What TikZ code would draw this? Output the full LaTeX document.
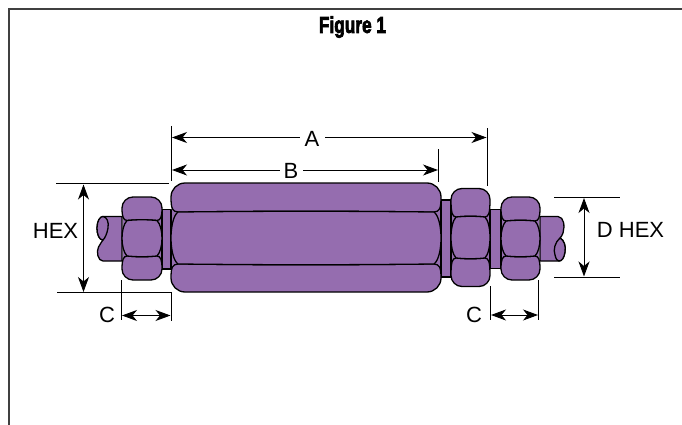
\documentclass[tikz,border=0pt]{standalone}
\usepackage{fontspec}
\setmainfont{Liberation Sans}
\newfontfamily\titlefont[FakeBold=3.5]{Liberation Sans Bold}
\usetikzlibrary{arrows.meta}
\definecolor{nutpurple}{HTML}{956DAF}
\definecolor{framegray}{HTML}{404040}
\tikzset{
  part/.style={draw=black,line width=1.3pt,fill=nutpurple,line join=round},
  dimline/.style={draw=black,line width=0.9pt},
  dimarrow/.style={draw=black,line width=0.9pt,{Stealth[length=15pt,width=11pt,inset=4.5pt]}-{Stealth[length=15pt,width=11pt,inset=4.5pt]}},
  rightarrow/.style={draw=black,line width=0.9pt,-{Stealth[length=15pt,width=11pt,inset=4.5pt]}},
  leftarrow/.style={draw=black,line width=0.9pt,{Stealth[length=15pt,width=11pt,inset=4.5pt]}-},
  lbl/.style={font=\fontsize{22}{24}\selectfont,inner sep=0pt,text=black},
  titlelbl/.style={font=\fontsize{23}{24}\selectfont\titlefont,inner sep=0pt,text=black,xscale=0.75}
}
% #1 x0, #2 x1, #3 top, #4 line1, #5 line2, #6 bottom, #7 corner radius, #8 junction inset
\newcommand{\nutbody}[8]{%
  \path[fill=nutpurple] ({#1+1},{#4-4}) rectangle ({#2-1},{#5+4});
  \path[part] ({#1+#8},{#4}) .. controls ({#1+1.5},{#4-0.5}) and ({#1},{#4-3}) .. ({#1},{#3+#7})
     .. controls ({#1},{#3+#7*0.45}) and ({#1+#7*0.45},{#3}) .. ({#1+#7},{#3})
     -- ({#2-#7},{#3})
     .. controls ({#2-#7*0.45},{#3}) and ({#2},{#3+#7*0.45}) .. ({#2},{#3+#7})
     .. controls ({#2},{#4-3}) and ({#2-1.5},{#4-0.5}) .. ({#2-#8},{#4})
     .. controls ({#2*0.6+#1*0.4},{#4-1}) and ({#1*0.6+#2*0.4},{#4-1}) .. cycle;
  \path[part] ({#1+#8},{#5}) .. controls ({#1+1.5},{#5+0.5}) and ({#1},{#5+3}) .. ({#1},{#6-#7})
     .. controls ({#1},{#6-#7*0.45}) and ({#1+#7*0.45},{#6}) .. ({#1+#7},{#6})
     -- ({#2-#7},{#6})
     .. controls ({#2-#7*0.45},{#6}) and ({#2},{#6-#7*0.45}) .. ({#2},{#6-#7})
     .. controls ({#2},{#5+3}) and ({#2-1.5},{#5+0.5}) .. ({#2-#8},{#5})
     .. controls ({#2*0.6+#1*0.4},{#5+1}) and ({#1*0.6+#2*0.4},{#5+1}) .. cycle;
  \path[part] ({#1+#8},{#4}) .. controls ({#1-#8/3},{#4+7}) and ({#1-#8/3},{#5-7}) .. ({#1+#8},{#5})
     .. controls ({#1*0.6+#2*0.4},{#5+1}) and ({#2*0.6+#1*0.4},{#5+1}) .. ({#2-#8},{#5})
     .. controls ({#2+#8/3},{#5-7}) and ({#2+#8/3},{#4+7}) .. ({#2-#8},{#4})
     .. controls ({#2*0.6+#1*0.4},{#4-1}) and ({#1*0.6+#2*0.4},{#4-1}) .. cycle;
}
\begin{document}
\begin{tikzpicture}[x=1pt,y=-1pt]
\useasboundingbox (0,0) rectangle (682,425);
% frame
\draw[framegray,line width=1.2pt] (9,425) -- (9,9) -- (682,9);
\node[titlelbl] (title) at (352.5,27) {Figure 1};

% left shaft
\path[part] (103,216.5) -- (122,216.5) -- (122,261) -- (103,261)
  .. controls (98,261) and (96,252) .. (98.5,247)
  .. controls (101,243) and (102,241) .. (103,240)
  .. controls (99,240) and (97,234) .. (97,228)
  .. controls (97,221) and (100,216.5) .. (103,216.5) -- cycle;
\path[part] (103,216.5) .. controls (107,217) and (109,222) .. (108,228)
  .. controls (107,234) and (105,238) .. (103,240)
  .. controls (99,240) and (97,234) .. (97,228)
  .. controls (97,221) and (100,216.5) .. (103,216.5) -- cycle;
% right shaft
\path[part] (540,216.5) -- (558,216.5)
  .. controls (564,217) and (565,226) .. (563,233)
  .. controls (562,236) and (561,237) .. (560,238)
  .. controls (564,240) and (566,246) .. (565,252)
  .. controls (564,258) and (562,261) .. (559,261) -- (540,261) -- cycle;
\path[part] (560,238) .. controls (555,242) and (553,250) .. (555,255)
  .. controls (556,259) and (557,261) .. (559,261)
  .. controls (562,261) and (564,258) .. (565,252)
  .. controls (566,246) and (564,240) .. (560,238) -- cycle;

% collars
\path[part] (162,209.5) rectangle (171,269);
\path[part] (441,200) rectangle (451,277);
\path[part] (490,209.5) rectangle (501,268.5);

% nuts and body
\nutbody{122}{162}{197}{220.5}{256}{280}{11}{5}
\nutbody{171}{441}{183}{212}{264}{292}{14}{7}
\nutbody{451}{490}{188.5}{217}{258}{286.5}{11}{5}
\nutbody{501}{540}{197}{221}{256}{280}{11}{5}

% extension lines
\draw[dimline] (171,126) -- (171,181);
\draw[dimline] (487,128) -- (487,186);
\draw[dimline] (438.5,149) -- (438.5,182);
\draw[dimline] (56,183.5) -- (169,183.5);
\draw[dimline] (57,292.5) -- (171,292.5);
\draw[dimline] (121.5,280) -- (121.5,320);
\draw[dimline] (171,292) -- (171,321);
\draw[dimline] (490,286) -- (490,320);
\draw[dimline] (538.5,280) -- (538.5,320);
\draw[dimline] (554,197.5) -- (620,197.5);
\draw[dimline] (554,277) -- (620,277);

% labels
\node[lbl] (labelA) at (312,139) {A};
\node[lbl] (labelB) at (291,171) {B};
\node[lbl] (labelHEX) at (55.5,230.5) {HEX};
\node[lbl] (labelCl) at (107,314.5) {C};
\node[lbl] (labelCr) at (474,314.5) {C};
\node[lbl] (labelDHEX) at (630.5,229.5) {D HEX};

% dimension coordinates
\coordinate (Al) at (172,137.5);
\coordinate (Ala) at (300,137.5);
\coordinate (Ara) at (325,137.5);
\coordinate (Ar) at (486.5,137.5);
\coordinate (Bl) at (172,170);
\coordinate (Bla) at (280,170);
\coordinate (Bra) at (303,170);
\coordinate (Br) at (438,170);
\coordinate (Ht) at (83.5,184.5);
\coordinate (Hb) at (83.5,292);
\coordinate (Cl1) at (122,315.5);
\coordinate (Cl2) at (170.5,315.5);
\coordinate (Cr1) at (491,315);
\coordinate (Cr2) at (538,315);
\coordinate (Dt) at (584,198);
\coordinate (Db) at (584,276.5);

\draw[leftarrow] (Al) -- (Ala);
\draw[rightarrow] (Ara) -- (Ar);
\draw[leftarrow] (Bl) -- (Bla);
\draw[rightarrow] (Bra) -- (Br);
\draw[dimarrow] (Ht) -- (Hb);
\draw[dimarrow] (Cl1) -- (Cl2);
\draw[dimarrow] (Cr1) -- (Cr2);
\draw[dimarrow] (Dt) -- (Db);
\end{tikzpicture}
\end{document}
